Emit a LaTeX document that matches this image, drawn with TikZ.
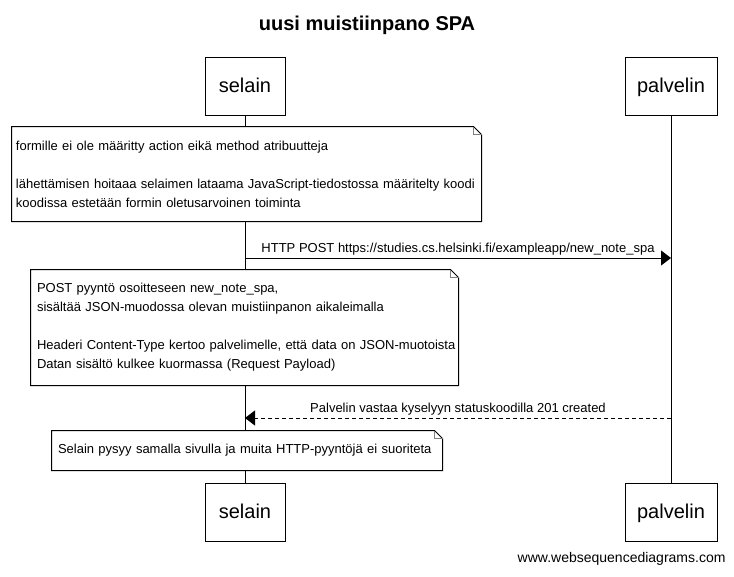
\documentclass[tikz,border=0pt]{standalone}
\usepackage{fontspec}
\setmainfont{Liberation Sans}
\usetikzlibrary{arrows.meta}
\begin{document}
\begin{tikzpicture}[x=1pt,y=-1pt,line width=1pt,
  actor/.style={draw,fill=white,minimum width=#1,minimum height=58pt,inner sep=0pt,text height=12pt,text depth=0pt,font=\fontsize{20}{24}\selectfont},
  notebox/.style={fill=white,align=left,font=\fontsize{13}{19}\selectfont},
  msg/.style={-{Triangle[length=10pt,width=15pt]}},
  lbl/.style={font=\fontsize{13}{15}\selectfont,above,inner sep=2pt}]
\useasboundingbox[fill=white] (0,0) rectangle (734,576);
\node[font=\bfseries\fontsize{20}{24}\selectfont] (title) at (367,25) {uusi muistiinpano SPA};
% actors
\node[actor=80pt] (selTop) at (245,86) {selain};
\node[actor=92pt] (palTop) at (671,86) {palvelin};
\node[actor=80pt] (selBot) at (245,512) {selain};
\node[actor=92pt] (palBot) at (671,512) {palvelin};
% lifelines
\draw (selTop.south) -- (selBot.north);
\draw (palTop.south) -- (palBot.north);
% note outline helper
\newcommand{\notefold}[1]{%
  \draw (#1.north west) -- ([xshift=-8pt]#1.north east) -- ([yshift=-8pt]#1.north east) -- (#1.south east) -- (#1.south west) -- cycle;
  \draw[line width=0.8pt,gray] ([xshift=-8pt]#1.north east) -- ([xshift=-8pt,yshift=-8pt]#1.north east) -- ([yshift=-8pt]#1.north east);}
% note 1
\node[notebox,minimum width=469pt,minimum height=94pt,text width=461pt,inner xsep=4pt] (n1) at (246.5,174)
  {formille ei ole määritty action eikä method atribuutteja\\[19pt]
   \mbox{lähettämisen hoitaaa selaimen lataama JavaScript-tiedostossa määritelty koodi}\\
   koodissa estetään formin oletusarvoinen toiminta};
\notefold{n1}
% message 1
\coordinate (m1s) at (selTop.south |- 0,258);
\coordinate (m1e) at (palTop.south |- 0,258);
\draw[msg] (m1s) -- node[lbl] {HTTP POST https://studies.cs.helsinki.fi/exampleapp/new\_note\_spa} (m1e);
% note 2
\node[notebox,minimum width=427pt,minimum height=115pt,text width=415pt,inner xsep=6pt] (n2) at (244.5,327.5)
  {POST pyyntö osoitteseen new\_note\_spa,\\
   sisältää JSON-muodossa olevan muistiinpanon aikaleimalla\\[19pt]
   \mbox{Headeri Content-Type kertoo palvelimelle, että data on JSON-muotoista}\\
   Datan sisältö kulkee kuormassa (Request Payload)};
\notefold{n2}
% message 2
\coordinate (m2s) at (palTop.south |- 0,418);
\coordinate (m2e) at (selTop.south |- 0,418);
\draw[msg,dash pattern=on 4pt off 3pt] (m2s) -- node[lbl] {Palvelin vastaa kyselyyn statuskoodilla 201 created} (m2e);
% note 3
\node[notebox,minimum width=390pt,minimum height=39pt,text width=378pt,inner xsep=6pt] (n3) at (247,450.5)
  {\mbox{Selain pysyy samalla sivulla ja muita HTTP-pyyntöjä ei suoriteta}};
\notefold{n3}
% footer
\node[anchor=east,font=\fontsize{14}{16}\selectfont,inner sep=0pt] (footer) at (726,559) {www.websequencediagrams.com};
\end{tikzpicture}
\end{document}
